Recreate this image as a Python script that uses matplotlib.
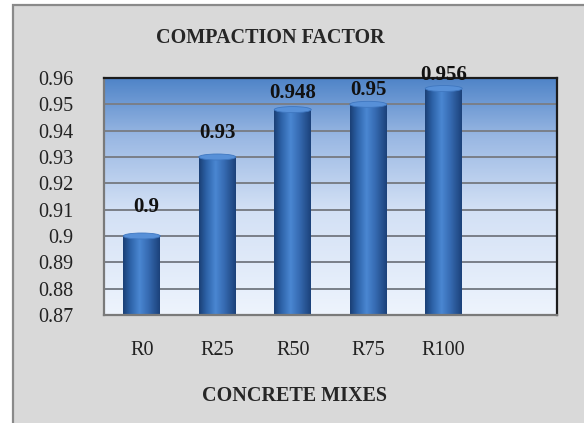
import numpy as np
import matplotlib
matplotlib.use("Agg")
import matplotlib.pyplot as plt
from matplotlib.patches import Rectangle, Ellipse
from matplotlib.colors import LinearSegmentedColormap

# Data
mixes = ["R0", "R25", "R50", "R75", "R100"]
compaction = [0.900, 0.930, 0.948, 0.950, 0.956]
value_labels = ["0.9", "0.93", "0.948", "0.95", "0.956"]
y_ticks = [0.87, 0.88, 0.89, 0.90, 0.91, 0.92, 0.93, 0.94, 0.95, 0.96]
y_tick_labels = ["0.87", "0.88", "0.89", "0.9", "0.91", "0.92", "0.93", "0.94", "0.95", "0.96"]

# Label placement above each bar (points) and horizontal nudges (points)
label_lift = [21, 17, 12, 10, 9.5]
label_shift = [3.5, 0, 0, 0, 0]

plt.rcParams["font.family"] = ["Liberation Serif", "DejaVu Serif"]

W, H = 584, 423
fig = plt.figure(figsize=(W / 100, H / 100), dpi=100, facecolor="white")

# Chart frame
frame = Rectangle((12.5 / W, -0.02), 1 - 12.5 / W + 0.02, (H - 5.5) / H + 0.02,
                  transform=fig.transFigure, facecolor="#d9d9d9",
                  edgecolor="#8a8a8a", linewidth=1.6, zorder=-10)
fig.patches.append(frame)

ax = fig.add_axes([104 / W, (H - 315) / H, (557 - 104) / W, (315 - 78) / H])
ax.set_zorder(1)
ax.set_xlim(-0.5, 5.5)
ax.set_ylim(0.87, 0.96)

# Vertical gradient background of the plot area
bg_cmap = LinearSegmentedColormap.from_list(
    "bg", [(0.0, "#eef4fd"), (0.45, "#d2e0f5"), (0.75, "#9ab8e3"), (1.0, "#4f84c8")])
grad = np.linspace(0, 1, 256).reshape(-1, 1)
ax.imshow(grad, cmap=bg_cmap, aspect="auto", origin="lower",
          extent=(-0.5, 5.5, 0.87, 0.96), zorder=0)

# Gridlines
ax.set_yticks(y_ticks)
ax.set_yticklabels(y_tick_labels)
for yv in y_ticks[1:-1]:
    ax.axhline(yv, color="#7a7f88", linewidth=1.4, zorder=1)

# Cylinder-style bars
bar_width = 0.49
bar_cmap = LinearSegmentedColormap.from_list(
    "bar", [(0.0, "#1a3f75"), (0.2, "#2d62a8"), (0.45, "#4a87d2"),
            (0.7, "#3569b0"), (1.0, "#1b4179")])
xs = np.arange(len(mixes))
bars = ax.bar(xs, [v - 0.87 for v in compaction], bottom=0.87,
              width=bar_width, color="none", zorder=2)
hgrad = np.linspace(0, 1, 256).reshape(1, -1)
px_per_data_y = (315 - 78) / 0.09
cap_h = 6 / px_per_data_y
for rect in bars:
    x0, y0 = rect.get_x(), rect.get_y()
    w, h = rect.get_width(), rect.get_height()
    im = ax.imshow(hgrad, cmap=bar_cmap, aspect="auto",
                   extent=(x0, x0 + w, y0, y0 + h), zorder=3)
    clip = Rectangle((x0, y0), w, h, transform=ax.transData)
    im.set_clip_path(clip)
    cap = Ellipse((x0 + w / 2, y0 + h), w, cap_h, facecolor="#5790d8",
                  edgecolor="#3f77c0", linewidth=0.6, zorder=4)
    ax.add_patch(cap)

# Value labels
for x, v, txt, lift, shift in zip(xs, compaction, value_labels, label_lift, label_shift):
    ax.annotate(txt, (x, v), xytext=(shift, lift), textcoords="offset points",
                ha="center", va="center", fontsize=15, fontweight="bold",
                color="#111111", zorder=6, annotation_clip=False)

# Axes styling
ax.set_xticks(xs)
ax.set_xticklabels(mixes)
ax.tick_params(axis="both", length=0, labelsize=14.5, colors="#222222")
ax.tick_params(axis="y", pad=22)
ax.tick_params(axis="x", pad=18.5)
for side in ("top", "right"):
    ax.spines[side].set_color("#1c1c1c")
    ax.spines[side].set_linewidth(1.6)
for side in ("left", "bottom"):
    ax.spines[side].set_color("#7a7a7a")
    ax.spines[side].set_linewidth(1.6)
for s in ax.spines.values():
    s.set_zorder(5)

fig.text(270 / W, 1 - 38 / H, "COMPACTION FACTOR", ha="center", va="center",
         fontsize=14.5, fontweight="bold", color="#262626")
fig.text(294 / W, 1 - 396 / H, "CONCRETE MIXES", ha="center", va="center",
         fontsize=14.5, fontweight="bold", color="#262626")

fig.savefig("out.png", dpi=100, facecolor=fig.get_facecolor())
